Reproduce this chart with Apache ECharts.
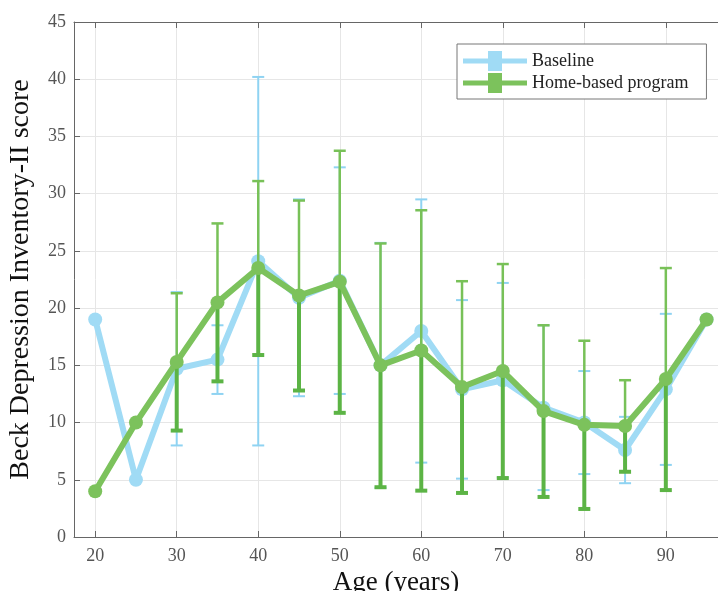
<!DOCTYPE html>
<html>
<head>
<meta charset="utf-8">
<script src="https://cdn.jsdelivr.net/npm/echarts@6/dist/echarts.min.js"></script>
<style>
html, body { margin: 0; padding: 0; background: #fff; }
#main { width: 718px; height: 591px; }
</style>
</head>
<body>
<div id="main"></div>
<script>
var ages = [20, 25, 30, 35, 40, 45, 50, 55, 60, 65, 70, 75, 80, 85, 90, 95];
var baseline = [19, 5, 14.7, 15.5, 24.1, 20.9, 22.4, 15.0, 18.0, 12.9, 13.7, 11.3, 10.0, 7.6, 12.9, 19.0];
var baselineSd = [null, null, 6.7, 3.0, 16.1, 8.6, 9.9, 10.7, 11.5, 7.8, 8.5, 7.2, 4.5, 2.9, 6.6, null];
var home = [4, 10, 15.3, 20.5, 23.5, 21.1, 22.3, 15.0, 16.3, 13.1, 14.5, 11.0, 9.8, 9.7, 13.8, 19.0];
var homeSd = [null, null, 6.0, 6.9, 7.6, 8.3, 11.45, 10.65, 12.25, 9.25, 9.35, 7.5, 7.35, 4.0, 9.7, null];
var names = ['Baseline', 'Home-based program'];

var myChart = echarts.init(document.getElementById('main'));
var font = 'Liberation Serif';
var blue = '#a0dbf5';
var green = '#7cc25c';

function pairs(ys) {
    return ages.map(function (a, i) { return [a, ys[i]]; });
}
function bars(ys, sd) {
    var out = [];
    ages.forEach(function (a, i) {
        if (sd[i] != null) out.push([a, ys[i], sd[i]]);
    });
    return out;
}
function errRender(upColor, lowColor, wUp, wLow) {
    return function (params, api) {
        var x = api.value(0), m = api.value(1), s = api.value(2);
        var top = api.coord([x, m + s]);
        var mid = api.coord([x, m]);
        var bot = api.coord([x, m - s]);
        var hw = 6;
        return {
            type: 'group',
            children: [
                { type: 'line', shape: { x1: top[0], y1: top[1], x2: mid[0], y2: mid[1] }, style: { stroke: upColor, lineWidth: wUp } },
                { type: 'line', shape: { x1: top[0] - hw, y1: top[1], x2: top[0] + hw, y2: top[1] }, style: { stroke: upColor, lineWidth: wUp } },
                { type: 'line', shape: { x1: mid[0], y1: mid[1], x2: bot[0], y2: bot[1] }, style: { stroke: lowColor, lineWidth: wLow } },
                { type: 'line', shape: { x1: bot[0] - hw, y1: bot[1], x2: bot[0] + hw, y2: bot[1] }, style: { stroke: lowColor, lineWidth: wLow } }
            ]
        };
    };
}

var legendIcon = 'path://M0,7.5 L64,7.5 L64,12.5 L0,12.5 Z M25,0 L39,0 L39,20 L25,20 Z';

var option = {
    animation: false,
    backgroundColor: '#fff',
    grid: { left: 74, right: 0, top: 22, bottom: 54, outerBoundsMode: 'none' },
    legend: {
        data: names,
        orient: 'vertical',
        left: 457,
        top: 44,
        padding: [7, 18, 6, 6],
        itemGap: 2,
        itemWidth: 64,
        itemHeight: 20,
        icon: legendIcon,
        borderColor: '#777',
        borderWidth: 1,
        backgroundColor: '#fff',
        textStyle: { fontFamily: font, fontSize: 18, color: '#222' }
    },
    xAxis: [{
        type: 'value',
        min: 17.4,
        max: 96.4,
        splitNumber: 8,
        name: 'Age (years)',
        nameLocation: 'middle',
        nameGap: 30,
        nameTextStyle: { fontFamily: font, fontSize: 27, color: '#111' },
        axisLine: { lineStyle: { color: '#666' } },
        axisTick: { inside: true, length: 6, lineStyle: { color: '#666' } },
        axisLabel: {
            fontFamily: font, fontSize: 18, color: '#555', margin: 10,
            formatter: function (v) { return v % 10 === 0 ? v : ''; }
        },
        splitLine: { show: true, lineStyle: { color: '#e6e6e6' } }
    }, {
        type: 'value',
        position: 'top',
        min: 17.4,
        max: 96.4,
        splitNumber: 8,
        axisLine: { lineStyle: { color: '#666' } },
        axisTick: { inside: true, length: 6, lineStyle: { color: '#666' } },
        axisLabel: { show: false },
        splitLine: { show: false }
    }],
    yAxis: {
        type: 'value',
        min: 0,
        max: 45,
        interval: 5,
        name: 'Beck Depression Inventory-II score',
        nameLocation: 'middle',
        nameGap: 39,
        nameTextStyle: { fontFamily: font, fontSize: 28, color: '#111' },
        axisLine: { show: true, lineStyle: { color: '#666' } },
        axisTick: { show: true, inside: true, length: 6, lineStyle: { color: '#666' } },
        axisLabel: { fontFamily: font, fontSize: 18, color: '#555', margin: 8 },
        splitLine: { show: true, lineStyle: { color: '#e6e6e6' } }
    },
    series: [{
        name: 'baseline-err',
        type: 'custom',
        z: 2,
        renderItem: errRender('#8fd3f2', '#8fd3f2', 2, 2),
        data: bars(baseline, baselineSd)
    }, {
        name: names[0],
        type: 'line',
        z: 3,
        data: pairs(baseline),
        symbol: 'circle',
        symbolSize: 14,
        itemStyle: { color: blue },
        lineStyle: { color: blue, width: 6 }
    }, {
        name: 'home-err',
        type: 'custom',
        z: 4,
        renderItem: errRender('#78c158', '#5cb445', 2.5, 4),
        data: bars(home, homeSd)
    }, {
        name: names[1],
        type: 'line',
        z: 5,
        data: pairs(home),
        symbol: 'circle',
        symbolSize: 14,
        itemStyle: { color: green },
        lineStyle: { color: green, width: 6 }
    }]
};

myChart.setOption(option);

window.onresize = function () {
    myChart.resize();
};
</script>
</body>
</html>
